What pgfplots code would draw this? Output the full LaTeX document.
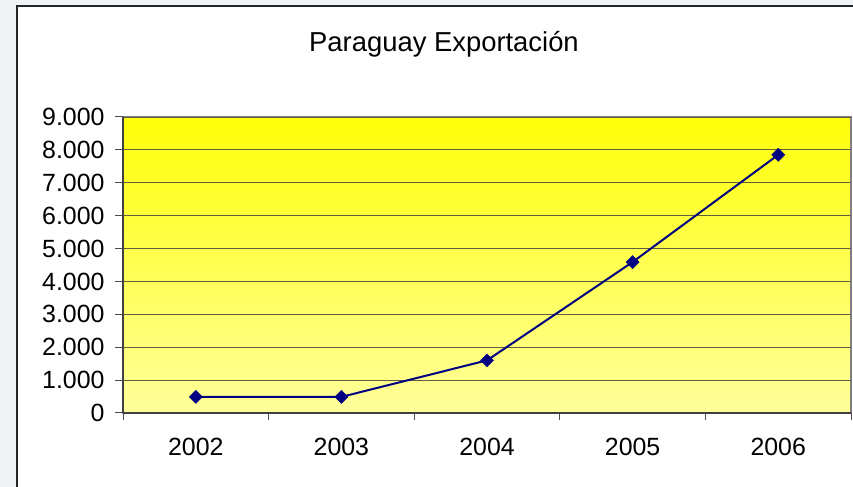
\documentclass[border=0pt]{standalone}
\usepackage{pgfplots}
\pgfplotsset{compat=1.18}
\usepackage{fontspec}
\setmainfont{Liberation Sans}
\definecolor{navyline}{RGB}{0,0,128}
\definecolor{outerbg}{RGB}{240,243,246}
\definecolor{gridcol}{RGB}{96,96,64}
\definecolor{topyellow}{RGB}{255,255,10}
\definecolor{botyellow}{RGB}{255,255,155}
\begin{document}
\begin{tikzpicture}[x=1bp,y=1bp]
  \clip (0,0) rectangle (853,487);
  \fill[outerbg] (0,0) rectangle (853,487);
  \draw[line width=1.3bp, black!85, fill=white] (17,-10) rectangle (870,481);
  \node[font=\fontsize{27.5}{32}\selectfont, anchor=base, inner sep=0] at (444,435) {Paraguay Exportación};
  \begin{axis}[
    at={(123bp,74bp)}, anchor=south west,
    scale only axis, width=728bp, height=296bp,
    xmin=-0.5, xmax=4.5, ymin=0, ymax=9000,
    xtick={0,1,2,3,4},
    xticklabels={2002,2003,2004,2005,2006},
    minor xtick={-0.5,0.5,1.5,2.5,3.5,4.5},
    ytick={0,1000,...,9000},
    axis x line*=bottom, axis y line*=left,
    axis line style={-, black!75, line width=1.3bp},
    axis background/.style={top color=topyellow, bottom color=botyellow, draw=gray, line width=1.3bp},
    tick align=outside,
    major tick length=8bp, minor tick length=7bp,
    major x tick style={draw=none},
    every tick/.style={black!70, line width=1bp},
    ymajorgrids, grid style={gridcol, line width=0.9bp},
    tick label style={font=\fontsize{25}{30}\selectfont},
    yticklabel style={xshift=-7bp},
    xticklabel style={yshift=-14bp},
    /pgf/number format/.cd, 1000 sep={.}, assume math mode=true,
  ]
    \addplot[navyline, line width=2bp, mark=square*, mark size=4.6bp,
      mark options={rotate=45, fill=navyline, draw=navyline, line width=0.5bp}]
      coordinates {(0,490) (1,490) (2,1600) (3,4590) (4,7850)};
  \end{axis}
\end{tikzpicture}
\end{document}
